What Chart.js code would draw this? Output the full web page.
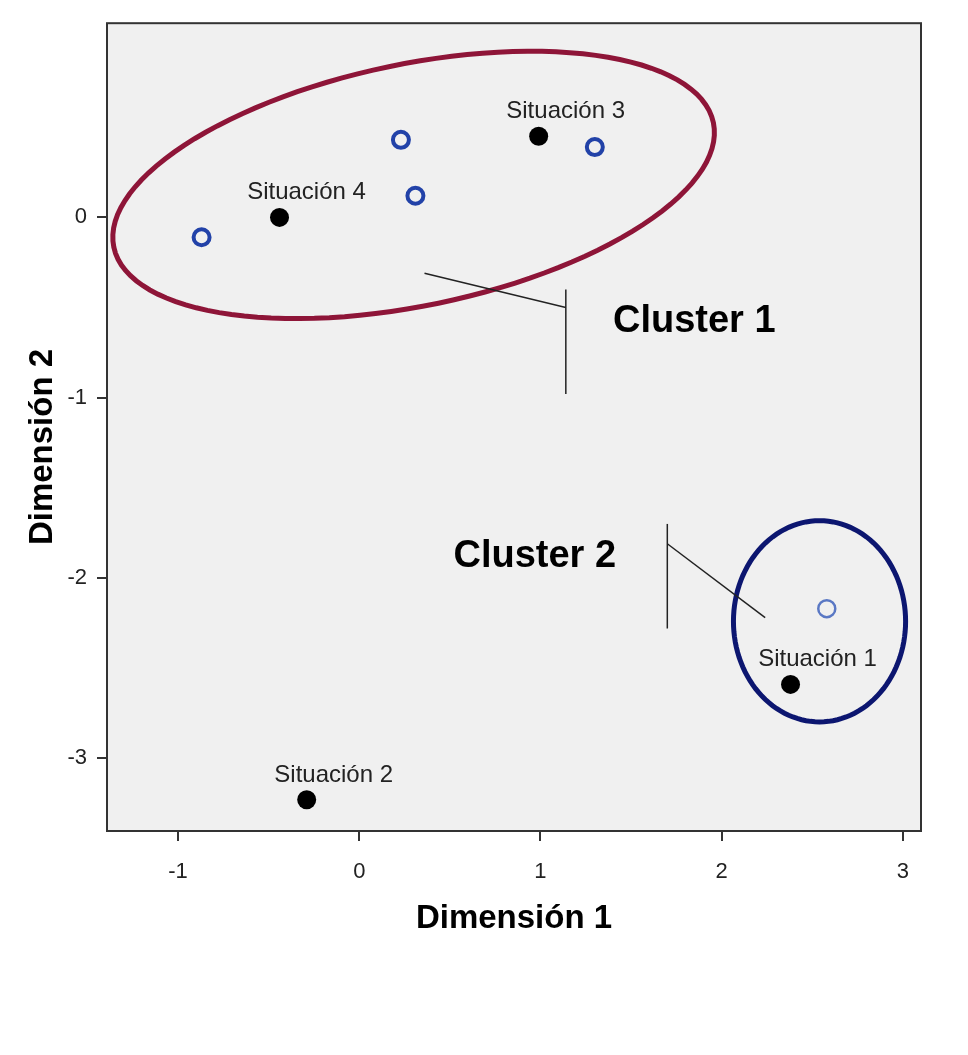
<!DOCTYPE html>
<html>
<head>
<meta charset="utf-8">
<title>Dimensión 1 / Dimensión 2</title>
<script src="https://cdn.jsdelivr.net/npm/chart.js@4/dist/chart.umd.min.js"></script>
<style>
  html, body { margin: 0; padding: 0; background: #fff; }
  canvas { display: block; }
</style>
</head>
<body>
<canvas id="chart" width="968" height="1055"></canvas>
<script>
// ------------------------------------------------------------
// Data
// ------------------------------------------------------------
const situacionLabels = ['Situación 1', 'Situación 2', 'Situación 3', 'Situación 4'];
const situacionX      = [2.38, -0.29, 0.99, -0.44];
const situacionY      = [-2.59, -3.23, 0.45, 0.00];

const itemX = [-0.87, 0.23, 0.31, 1.30, 2.58];
const itemY = [-0.11, 0.43, 0.12, 0.39, -2.17];

const xTicks = [-1, 0, 1, 2, 3];
const yTicks = [0, -1, -2, -3];

const xTitle = 'Dimensión 1';
const yTitle = 'Dimensión 2';

// Cluster outlines: centre, semi-axes and tilt, in data units
const clusterEllipses = [
  { cx: 0.30, cy: 0.18, a: 1.69, b: 0.67, angle: 11.8, color: '#8e1538', width: 5 },
  { cx: 2.54, cy: -2.24, a: 0.475, b: 0.558, angle: 0, color: '#0c1670', width: 5 }
];

// Callout brackets, in data units
const calloutLines = [
  [[0.36, -0.31], [1.14, -0.50]],
  [[1.14, -0.40], [1.14, -0.98]],
  [[1.70, -1.70], [1.70, -2.28]],
  [[1.70, -1.81], [2.24, -2.22]]
];
const clusterTexts = [
  { text: 'Cluster 1', x: 1.40, y: -0.58 },
  { text: 'Cluster 2', x: 0.52, y: -1.88 }
];

const FONT = "'Liberation Sans', Arial, sans-serif";

const xy = (xs, ys) => xs.map((x, i) => ({ x: x, y: ys[i] }));

// ------------------------------------------------------------
// Drawing helpers
// ------------------------------------------------------------
const decorPlugin = {
  id: 'decor',
  beforeDraw(chart) {
    const { ctx, chartArea: a } = chart;
    ctx.save();
    ctx.fillStyle = '#ffffff';
    ctx.fillRect(0, 0, chart.width, chart.height);
    ctx.fillStyle = '#f0f0f0';
    ctx.fillRect(a.left, a.top, a.right - a.left, a.bottom - a.top);
    ctx.restore();
  },
  afterDatasetsDraw(chart) {
    const { ctx, chartArea: area } = chart;
    const sx = chart.scales.x, sy = chart.scales.y;
    const px = v => sx.getPixelForValue(v);
    const py = v => sy.getPixelForValue(v);

    ctx.save();
    // ellipses
    clusterEllipses.forEach(e => {
      const t = e.angle * Math.PI / 180;
      ctx.beginPath();
      for (let k = 0; k <= 120; k++) {
        const f = k / 120 * Math.PI * 2;
        const dx = e.a * Math.cos(f), dy = e.b * Math.sin(f);
        const x = e.cx + dx * Math.cos(t) - dy * Math.sin(t);
        const y = e.cy + dx * Math.sin(t) + dy * Math.cos(t);
        if (k === 0) ctx.moveTo(px(x), py(y)); else ctx.lineTo(px(x), py(y));
      }
      ctx.closePath();
      ctx.strokeStyle = e.color;
      ctx.lineWidth = e.width;
      ctx.stroke();
    });

    // callout lines
    ctx.strokeStyle = '#222';
    ctx.lineWidth = 1.5;
    calloutLines.forEach(l => {
      ctx.beginPath();
      ctx.moveTo(px(l[0][0]), py(l[0][1]));
      ctx.lineTo(px(l[1][0]), py(l[1][1]));
      ctx.stroke();
    });

    // cluster names
    ctx.fillStyle = '#000';
    ctx.font = 'bold 38px ' + FONT;
    ctx.textAlign = 'left';
    ctx.textBaseline = 'middle';
    clusterTexts.forEach(c => ctx.fillText(c.text, px(c.x), py(c.y)));

    // point labels
    ctx.fillStyle = '#222';
    ctx.font = '24px ' + FONT;
    ctx.textAlign = 'center';
    ctx.textBaseline = 'alphabetic';
    situacionLabels.forEach((s, i) => {
      ctx.fillText(s, px(situacionX[i]) + 27, py(situacionY[i]) - 18);
    });

    // plot frame
    ctx.strokeStyle = '#333';
    ctx.lineWidth = 2;
    ctx.strokeRect(area.left, area.top, area.right - area.left, area.bottom - area.top);

    // y axis title
    ctx.fillStyle = '#000';
    ctx.font = 'bold 33px ' + FONT;
    ctx.textAlign = 'center';
    ctx.textBaseline = 'middle';
    ctx.translate(43, 447);
    ctx.rotate(-Math.PI / 2);
    ctx.fillText(yTitle, 0, 0);
    ctx.restore();
  }
};

// ------------------------------------------------------------
// Chart
// ------------------------------------------------------------
new Chart(document.getElementById('chart'), {
  type: 'scatter',
  data: {
    datasets: [
      {
        label: 'Situaciones',
        data: xy(situacionX, situacionY),
        pointRadius: 9.5,
        pointBackgroundColor: '#000',
        pointBorderColor: '#000',
        pointBorderWidth: 0
      },
      {
        label: 'Items',
        data: xy(itemX, itemY),
        pointRadius: ctx => ctx.dataIndex === 4 ? 8.5 : 8,
        pointBackgroundColor: 'rgba(0,0,0,0)',
        pointBorderColor: ctx => ctx.dataIndex === 4 ? '#5a78c4' : '#2242a8',
        pointBorderWidth: ctx => ctx.dataIndex === 4 ? 2.5 : 4
      }
    ]
  },
  options: {
    responsive: false,
    animation: false,
    events: [],
    layout: { padding: { left: 0, top: 20, right: 47, bottom: 116 } },
    plugins: {
      legend:  { display: false },
      tooltip: { enabled: false }
    },
    scales: {
      x: {
        type: 'linear',
        min: -1.392,
        max: 3.10,
        afterBuildTicks: s => { s.ticks = xTicks.map(v => ({ value: v })); },
        afterFit: s => { s.height = 108; },
        ticks: {
          color: '#222',
          padding: 18,
          font: { family: FONT, size: 22 }
        },
        grid: {
          drawOnChartArea: false,
          drawTicks: true,
          tickLength: 10,
          color: '#333',
          lineWidth: 2
        },
        border: { display: false },
        title: {
          display: true,
          text: xTitle,
          color: '#000',
          padding: 0,
          font: { family: FONT, size: 33, weight: 'bold' }
        }
      },
      y: {
        type: 'linear',
        min: -3.403,
        max: 1.077,
        afterBuildTicks: s => { s.ticks = yTicks.map(v => ({ value: v })); },
        afterFit: s => { s.width = 107; },
        ticks: {
          color: '#222',
          padding: 10,
          font: { family: FONT, size: 22 }
        },
        grid: {
          drawOnChartArea: false,
          drawTicks: true,
          tickLength: 10,
          color: '#333',
          lineWidth: 2
        },
        border: { display: false }
      }
    }
  },
  plugins: [decorPlugin]
});
</script>
</body>
</html>
